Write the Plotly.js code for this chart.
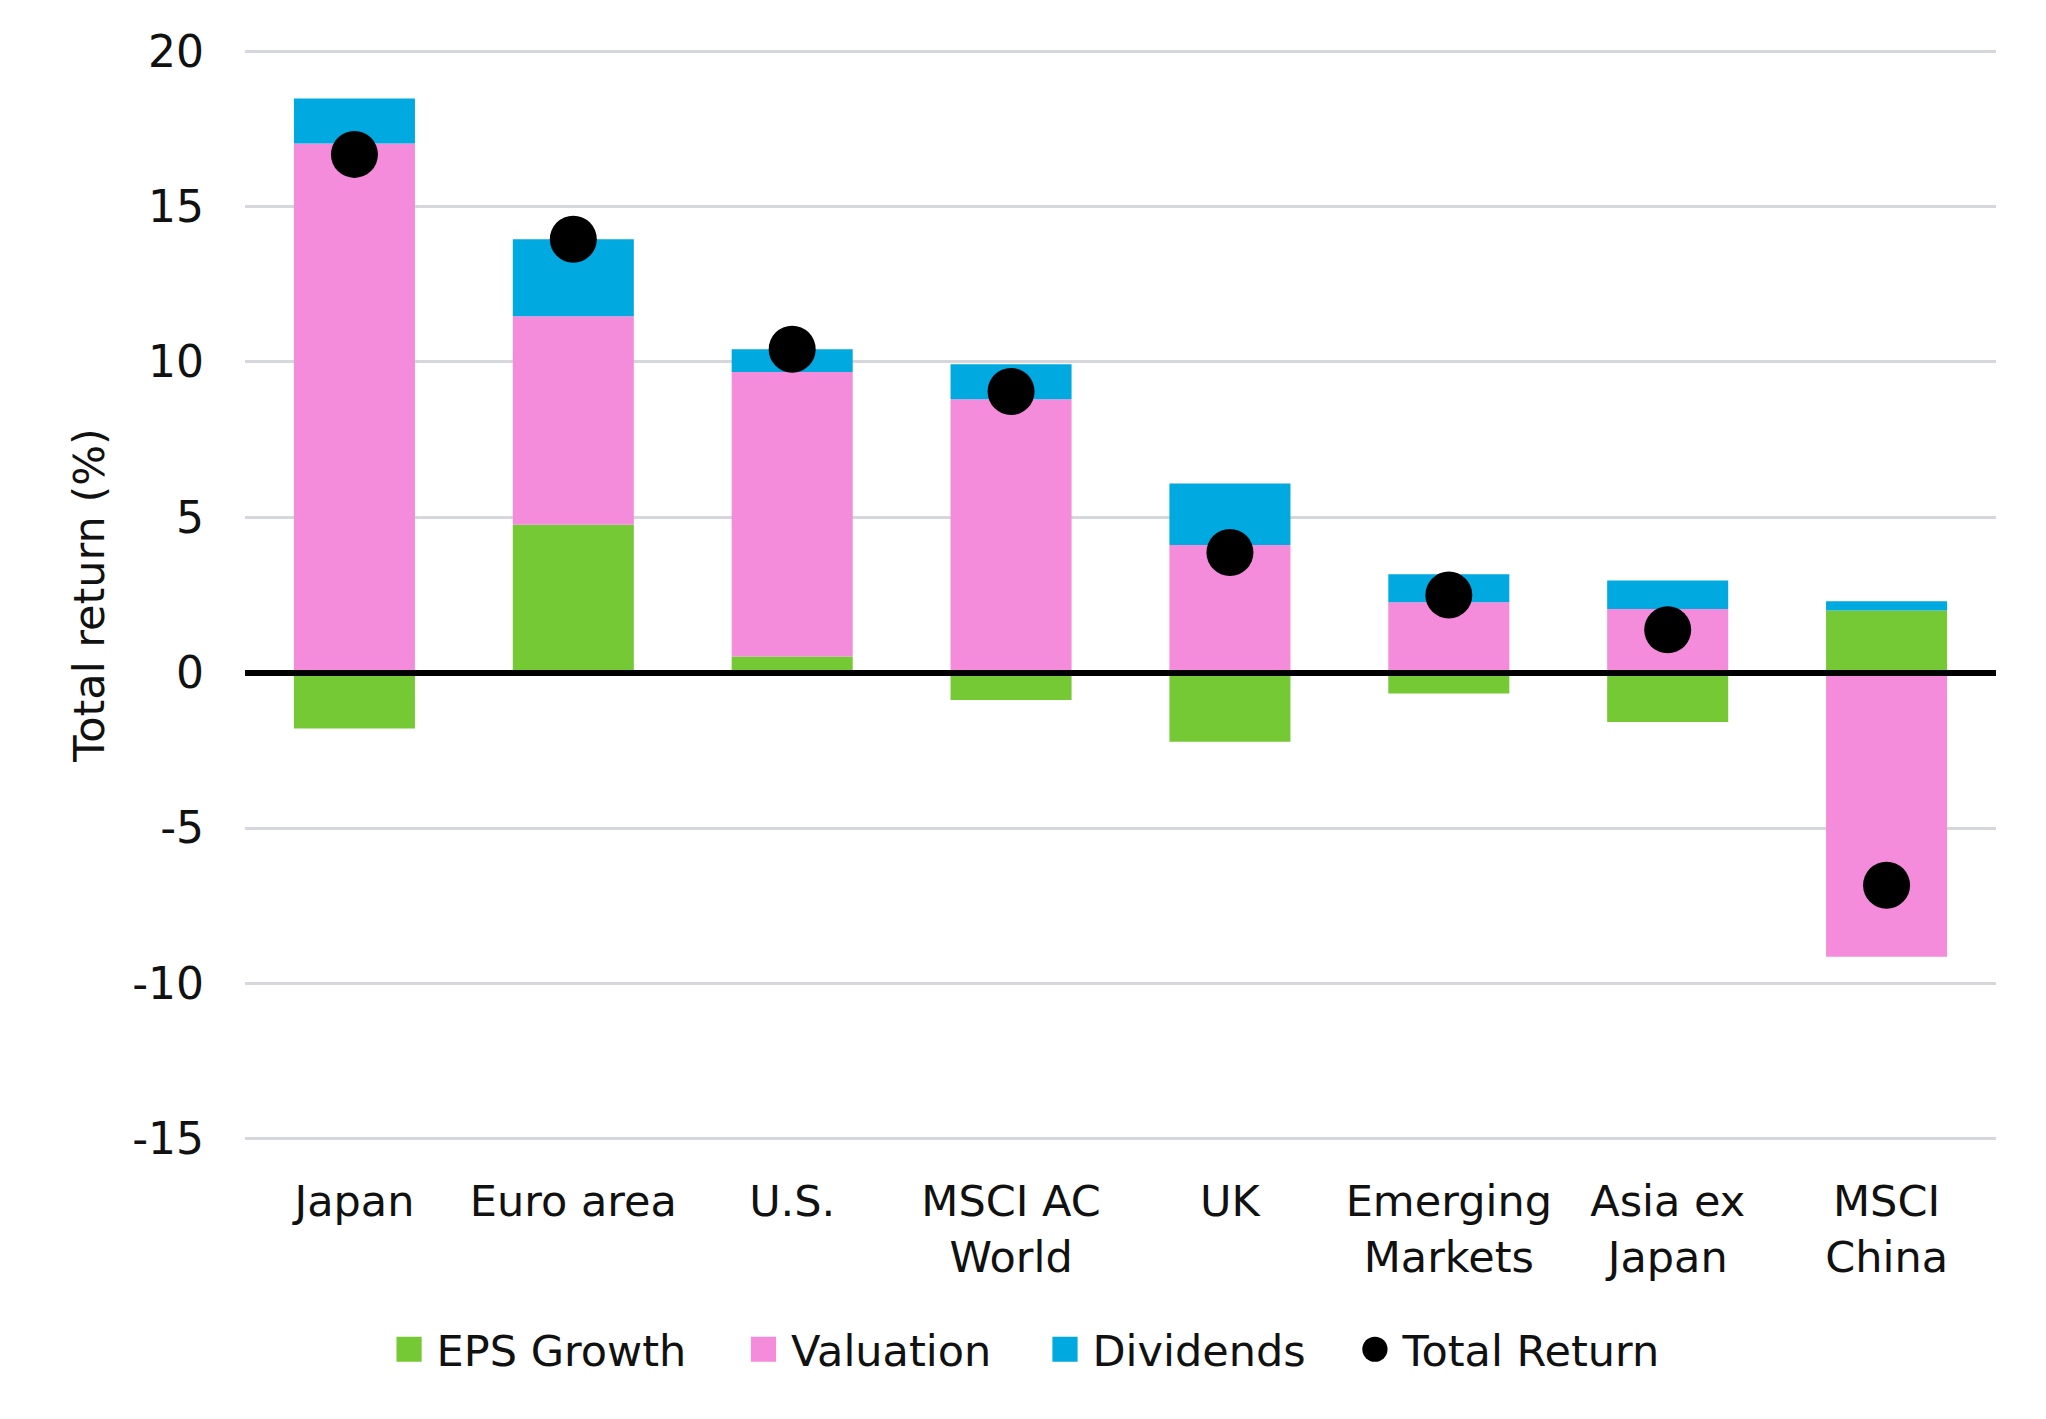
<!DOCTYPE html>
<html>
<head>
<meta charset="utf-8">
<script src="https://cdn.plot.ly/plotly-3.0.1.min.js"></script>
<style>
  html, body { margin: 0; padding: 0; background: #ffffff; }
  #chart { width: 2046px; height: 1419px; }
</style>
</head>
<body>
<div id="chart"></div>
<script>
// Regional equity returns decomposed into their drivers (%)
const categories = ['Japan', 'Euro area', 'U.S.', 'MSCI AC World', 'UK', 'Emerging Markets', 'Asia ex Japan', 'MSCI China'];
const tickLabels = ['Japan', 'Euro area', 'U.S.', 'MSCI AC<br>World', 'UK', 'Emerging<br>Markets', 'Asia ex<br>Japan', 'MSCI<br>China'];

const epsGrowth   = [-1.80, 4.76, 0.52, -0.88, -2.22, -0.67, -1.59, 2.00];
const valuation   = [17.03, 6.71, 9.16, 8.80, 4.11, 2.27, 2.05, -9.14];
const dividends   = [1.45, 2.48, 0.73, 1.13, 1.98, 0.90, 0.92, 0.30];
const totalReturn = [16.68, 13.95, 10.41, 9.05, 3.87, 2.50, 1.38, -6.84];

const yTicks = [-15, -10, -5, 0, 5, 10, 15, 20];

const COLORS = {
  eps: '#74c935',
  valuation: '#f58bdb',
  dividends: '#00a9e0',
  total: '#000000',
  grid: '#d6d6dd',
  text: '#111111'
};

const FONT = 'DejaVu Sans, Arial, sans-serif';

const traces = [
  {
    type: 'bar', name: 'EPS Growth', x: categories, y: epsGrowth,
    marker: { color: COLORS.eps }, legend: 'legend', hoverinfo: 'y+name'
  },
  {
    type: 'bar', name: 'Valuation', x: categories, y: valuation,
    marker: { color: COLORS.valuation }, legend: 'legend2', hoverinfo: 'y+name'
  },
  {
    type: 'bar', name: 'Dividends', x: categories, y: dividends,
    marker: { color: COLORS.dividends }, legend: 'legend3', hoverinfo: 'y+name'
  },
  {
    type: 'scatter', mode: 'markers', name: 'Total Return', x: categories, y: totalReturn,
    marker: { color: COLORS.total, size: 47 }, legend: 'legend4', hoverinfo: 'y+name'
  }
];

function legendAt(xPos) {
  return {
    orientation: 'h',
    x: xPos, xanchor: 'left', xref: 'paper',
    y: -0.192, yanchor: 'middle', yref: 'paper',
    font: { family: FONT, size: 43, color: COLORS.text },
    bgcolor: 'rgba(0,0,0,0)',
    itemwidth: 45,
    itemsizing: 'constant',
    itemclick: false, itemdoubleclick: false
  };
}

const layout = {
  width: 2046,
  height: 1419,
  margin: { l: 245, r: 50, t: 50, b: 279 },
  paper_bgcolor: '#ffffff',
  plot_bgcolor: '#ffffff',
  barmode: 'relative',
  bargap: 0.447,
  font: { family: FONT, size: 43, color: COLORS.text },
  xaxis: {
    type: 'category',
    range: [-0.5, 7.5],
    tickvals: categories,
    ticktext: tickLabels,
    tickfont: { family: FONT, size: 43, color: COLORS.text },
    ticks: '',
    ticklabelstandoff: 32,
    showgrid: false,
    showline: false,
    zeroline: false,
    fixedrange: true
  },
  yaxis: {
    range: [-15.04, 20.04],
    tickvals: yTicks,
    ticktext: yTicks.map(String),
    tickfont: { family: FONT, size: 44, color: COLORS.text },
    ticks: '',
    ticklabelstandoff: 40,
    showgrid: true,
    gridcolor: COLORS.grid,
    gridwidth: 2.5,
    zeroline: true,
    zerolinecolor: '#000000',
    zerolinewidth: 6,
    zerolinelayer: 'above traces',
    showline: false,
    fixedrange: true,
    title: {
      text: 'Total return (%)',
      font: { family: FONT, size: 43, color: COLORS.text },
      standoff: 14
    }
  },
  legend: legendAt(0.078),
  legend2: legendAt(0.2804),
  legend3: legendAt(0.4526),
  legend4: legendAt(0.6296),
  showlegend: true
};

Plotly.newPlot('chart', traces, layout, { displayModeBar: false }).then(function () {
  // Enlarge the legend swatches so they sit in proportion with the legend text.
  document.querySelectorAll('.infolayer g.legendpoints path').forEach(function (p) {
    const d = p.getAttribute('d');
    if (!d || d === 'M0,0Z') return;
    const t = p.getAttribute('transform') || '';
    p.setAttribute('transform', t + ' scale(2.1)');
  });
});
</script>
</body>
</html>
